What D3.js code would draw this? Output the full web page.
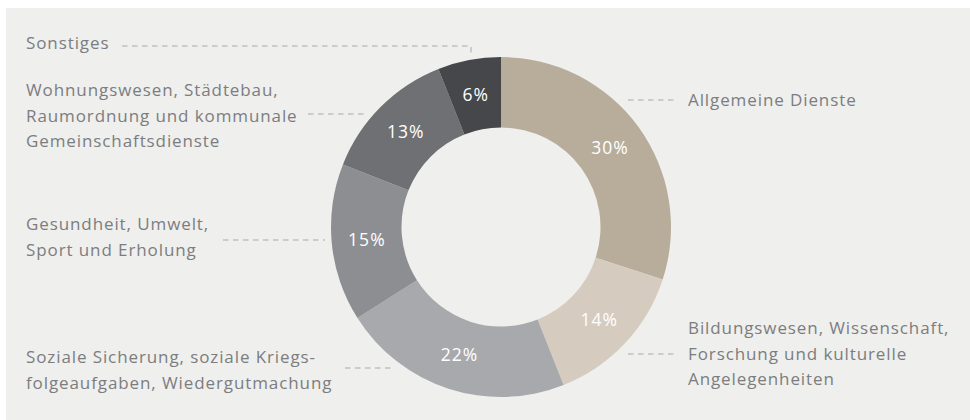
<!DOCTYPE html>
<html>
<head>
<meta charset="utf-8">
<script src="https://cdn.jsdelivr.net/npm/d3@7"></script>
<style>
  html, body { margin: 0; padding: 0; background: #ffffff; }
  svg { display: block; }
  text { font-family: "Open Sans", "Noto Sans", sans-serif; font-weight: 400; }
</style>
</head>
<body>
<svg id="chart" width="970" height="420"></svg>
<script>
// Expenditure shares by function, clockwise from twelve o'clock
const categories = [
  "Allgemeine Dienste",
  "Bildungswesen, Wissenschaft, Forschung und kulturelle Angelegenheiten",
  "Soziale Sicherung, soziale Kriegsfolgeaufgaben, Wiedergutmachung",
  "Gesundheit, Umwelt, Sport und Erholung",
  "Wohnungswesen, Städtebau, Raumordnung und kommunale Gemeinschaftsdienste",
  "Sonstiges"
];
const shares = [30, 14, 22, 15, 13, 6];
const labelLines = [
  ["Allgemeine Dienste"],
  ["Bildungswesen, Wissenschaft,", "Forschung und kulturelle", "Angelegenheiten"],
  ["Soziale Sicherung, soziale Kriegs-", "folgeaufgaben, Wiedergutmachung"],
  ["Gesundheit, Umwelt,", "Sport und Erholung"],
  ["Wohnungswesen, Städtebau,", "Raumordnung und kommunale", "Gemeinschaftsdienste"],
  ["Sonstiges"]
];
const colors = ["#b8ad9b", "#d5ccbf", "#a8a9ad", "#8d8e92", "#6f7074", "#46474a"];

// Layout of the callouts: text anchor point and leader line
const layout = [
  { x: 688, y: 100, lead: [[628, 100], [678, 100]] },
  { x: 688, y: 328, lead: [[628, 354], [678, 354]] },
  { x: 26,  y: 357, lead: [[345, 368], [395, 368]] },
  { x: 26,  y: 224, lead: [[223, 240], [325, 240]] },
  { x: 26,  y: 90,  lead: [[308, 114], [368, 114]] },
  { x: 26,  y: 43,  lead: [[122, 46], [471, 46], [471, 53]] }
];

const W = 970, H = 420;
const cx = 501, cy = 227, rOuter = 170, rInner = 99.5;
const lineH = 25.5;

const svg = d3.select("#chart");

// panel
svg.append("rect")
  .attr("x", 6).attr("y", 8)
  .attr("width", W - 6).attr("height", H - 8)
  .attr("fill", "#efefed");

const pie = d3.pie().sort(null).value(d => d)(shares);
const arc = d3.arc().innerRadius(rInner).outerRadius(rOuter);

const g = svg.append("g").attr("transform", `translate(${cx},${cy})`);

g.selectAll("path.slice")
  .data(pie)
  .join("path")
  .attr("class", "slice")
  .attr("d", arc)
  .attr("fill", (d, i) => colors[i]);

g.selectAll("text.pct")
  .data(pie)
  .join("text")
  .attr("class", "pct")
  .attr("transform", d => `translate(${arc.centroid(d)})`)
  .attr("text-anchor", "middle")
  .attr("dy", "0.36em")
  .attr("fill", "#ffffff")
  .attr("font-size", 17.5)
  .attr("letter-spacing", 1)
  .text(d => d.data + "%");

// leader lines
const line = d3.line();
svg.selectAll("path.leader")
  .data(layout)
  .join("path")
  .attr("class", "leader")
  .attr("d", d => line(d.lead))
  .attr("fill", "none")
  .attr("stroke", "#a9a9a9")
  .attr("stroke-width", 1)
  .attr("stroke-dasharray", "5.5,4.5");

// category labels
const labels = svg.selectAll("text.cat")
  .data(layout)
  .join("text")
  .attr("class", "cat")
  .attr("fill", "#7c7d80")
  .attr("font-size", 17)
  .attr("letter-spacing", 0.9);

labels.each(function (d, i) {
  const t = d3.select(this);
  labelLines[i].forEach((ln, k) => {
    t.append("tspan")
      .attr("x", d.x)
      .attr("y", d.y + k * lineH)
      .attr("dy", "0.36em")
      .text(ln);
  });
});
</script>
</body>
</html>
